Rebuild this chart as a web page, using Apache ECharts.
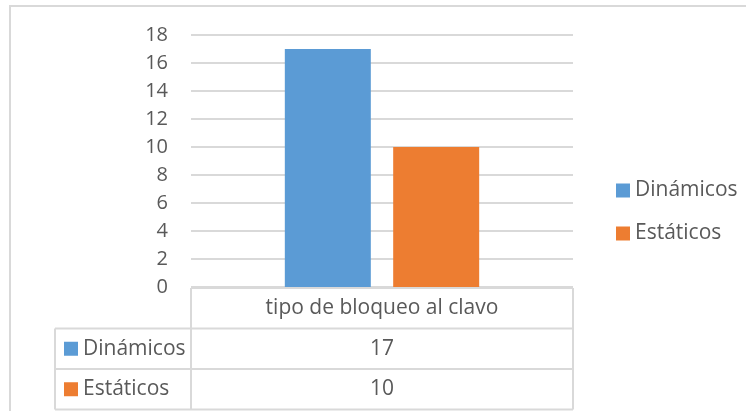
<!DOCTYPE html>
<html>
<head>
<meta charset="utf-8">
<script src="https://cdn.jsdelivr.net/npm/echarts@6/dist/echarts.min.js"></script>
<style>
  html, body { margin: 0; padding: 0; background: #fff; }
  #chart { width: 746px; height: 411px; }
</style>
</head>
<body>
<div id="chart"></div>
<script>
const categories = ['tipo de bloqueo al clavo']
const seriesNames = ['Dinámicos', 'Estáticos']
const dinamicos = [17]
const estaticos = [10]
const colors = ['#5b9bd5', '#ed7d31']

const font = '"Open Sans", sans-serif'
const textColor = '#595959'
const lineColor = '#d9d9d9'

// plot area
const gLeft = 191, gRight = 573, gTop = 35, gBottom = 287
// data table
const tLeft = 55, rowH = 40.5

const myChart = echarts.init(document.getElementById('chart'))

let graphics = []
// chart frame
graphics.push({
  type: 'rect', silent: true,
  shape: {x: 10, y: 6, width: 760, height: 430},
  style: {fill: 'none', stroke: lineColor, lineWidth: 2}
})

// table lines
const rows = [gBottom + 1, gBottom + 1 + rowH, gBottom + 1 + rowH * 2, gBottom + 1 + rowH * 3]
const line = (x1, y1, x2, y2) => ({
  type: 'line', silent: true,
  shape: {x1: x1, y1: y1, x2: x2, y2: y2},
  style: {stroke: lineColor, lineWidth: 2}
})
graphics.push(line(gLeft, rows[0], gRight, rows[0]))
for (let i = 1; i < rows.length; i++) graphics.push(line(tLeft, rows[i], gRight, rows[i]))
graphics.push(line(tLeft, rows[1], tLeft, rows[3]))
graphics.push(line(gLeft, rows[0], gLeft, rows[3]))
graphics.push(line(gRight, rows[0], gRight, rows[3]))

const cellText = (txt, x, y, align) => ({
  type: 'text', silent: true,
  style: {
    text: txt, x: x, y: y, align: align || 'center', verticalAlign: 'middle',
    fill: textColor, font: '21px ' + font
  }
})
const midX = (gLeft + gRight) / 2
graphics.push(cellText(categories[0], midX, (rows[0] + rows[1]) / 2))
const values = [dinamicos, estaticos]
seriesNames.forEach((name, i) => {
  const cy = (rows[i + 1] + rows[i + 2]) / 2
  graphics.push({
    type: 'rect', silent: true,
    shape: {x: 64, y: cy - 7, width: 14, height: 14},
    style: {fill: colors[i]}
  })
  graphics.push(cellText(name, 83, cy, 'left'))
  graphics.push(cellText(String(values[i][0]), midX, cy))
})

let option = {
  animation: false,
  color: colors,
  textStyle: {fontFamily: font},
  grid: {left: gLeft, right: 746 - gRight, top: gTop, bottom: 411 - gBottom},
  legend: {
    orient: 'vertical',
    left: 611,
    top: 175,
    itemWidth: 14,
    itemHeight: 14,
    itemGap: 22,
    icon: 'rect',
    textStyle: {color: textColor, fontSize: 21, fontFamily: font}
  },
  xAxis: {
    type: 'category',
    data: categories,
    axisLine: {show: false},
    axisTick: {show: false},
    axisLabel: {show: false}
  },
  yAxis: {
    type: 'value',
    min: 0,
    max: 18,
    interval: 2,
    axisLine: {show: false},
    axisTick: {show: false},
    axisLabel: {color: textColor, fontSize: 20, fontFamily: font, margin: 23},
    splitLine: {lineStyle: {color: lineColor, width: 2}}
  },
  series: [{
    name: seriesNames[0],
    type: 'bar',
    data: dinamicos,
    barWidth: 86,
    barGap: '26%'
  }, {
    name: seriesNames[1],
    type: 'bar',
    data: estaticos,
    barWidth: 86
  }],
  graphic: graphics
}
option && myChart.setOption(option)
</script>
</body>
</html>
